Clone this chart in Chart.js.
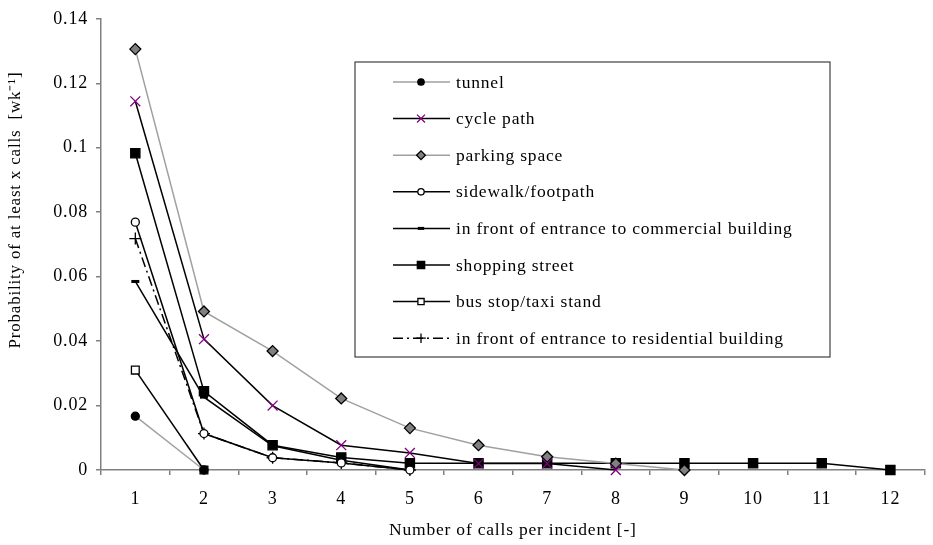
<!DOCTYPE html>
<html>
<head>
<meta charset="utf-8">
<title>Probability of at least x calls</title>
<script src="https://cdn.jsdelivr.net/npm/chart.js@4.4.1/dist/chart.umd.min.js"></script>
<style>
    html, body { margin: 0; padding: 0; background: #ffffff; }
    #wrap { width: 933px; height: 545px; }
</style>
</head>
<body>
<div id="wrap"><canvas id="callsChart" width="933" height="545"></canvas></div>
<script>
// Categories: number of calls per incident
const callCounts = ['1', '2', '3', '4', '5', '6', '7', '8', '9', '10', '11', '12'];
const yTickLabels = ['0', '0.02', '0.04', '0.06', '0.08', '0.1', '0.12', '0.14'];

// Probability of at least x calls, per location type
const tunnel = [0.0167, 0];
const cyclePath = [0.1144, 0.0406, 0.0200, 0.0077, 0.0053, 0.0020, 0.0020, 0];
const parkingSpace = [0.1306, 0.0492, 0.0369, 0.0222, 0.0130, 0.0077, 0.0041, 0.0020, 0];
const sidewalk = [0.0769, 0.0113, 0.0038, 0.0022, 0];
const commercialEntrance = [0.0585, 0.0226, 0.0075, 0.0030, 0];
const shoppingStreet = [0.0983, 0.0244, 0.0077, 0.0039, 0.0021, 0.0021, 0.0021, 0.0021, 0.0021, 0.0021, 0.0021, 0];
const busStop = [0.0310, 0];
const residentialEntrance = [0.0718, 0.0113, 0.0038, 0.0022, 0];

const xTitle = 'Number of calls per incident [-]';
const yTitle = 'Probability of at least x calls  [wk\u207B\u00B9]';

const FONT = '"Liberation Serif", "Times New Roman", serif';
const GREY_LINE = '#a0a0a0';

Chart.defaults.font.family = FONT;
Chart.defaults.font.size = 18;
Chart.defaults.color = '#000';

// helper to build one series
function series(label, data, lineColor, style, radius, fill, border, extra) {
    return Object.assign({
        label: label,
        data: data,
        borderColor: lineColor,
        borderWidth: 1.5,
        pointStyle: style,
        pointRadius: radius,
        pointHoverRadius: radius,
        pointBackgroundColor: fill,
        pointBorderColor: border,
        pointBorderWidth: 1.3,
        tension: 0,
        fill: false,
        clip: false
    }, extra || {});
}

const datasets = [
    series('tunnel', tunnel, GREY_LINE, 'circle', 4, '#000', '#000'),
    series('cycle path', cyclePath, '#000', 'crossRot', 7, '#800080', '#800080'),
    series('parking space', parkingSpace, GREY_LINE, 'rectRot', 5.5, '#808080', '#000'),
    series('sidewalk/footpath', sidewalk, '#000', 'circle', 4, '#fff', '#000'),
    series('in front of entrance to commercial building', commercialEntrance, '#000', 'line', 4, '#000', '#000', { pointBorderWidth: 3 }),
    series('shopping street', shoppingStreet, '#000', 'rect', 6.5, '#000', '#000'),
    series('bus stop/taxi stand', busStop, '#000', 'rect', 5.5, '#fff', '#000'),
    series('in front of entrance to residential building', residentialEntrance, '#000', 'cross', 6, '#000', '#000', { borderDash: [10, 4, 2, 4] })
];

// legend box inside the plot, drawn from the dataset styles
const legendBox = { left: 355, top: 62, width: 475, height: 295, firstRow: 82, rowStep: 36.6 };

const spacingPlugin = {
    id: 'spacing',
    beforeDraw(chart) {
        chart.ctx.letterSpacing = '0.8px';
    }
};

const legendPlugin = {
    id: 'boxLegend',
    afterDraw(chart) {
        const ctx = chart.ctx;
        ctx.save();
        ctx.fillStyle = '#fff';
        ctx.fillRect(legendBox.left, legendBox.top, legendBox.width, legendBox.height);
        ctx.strokeStyle = '#404040';
        ctx.lineWidth = 1.2;
        ctx.strokeRect(legendBox.left, legendBox.top, legendBox.width, legendBox.height);

        chart.data.datasets.forEach(function (ds, i) {
            const y = legendBox.firstRow + i * legendBox.rowStep;
            ctx.strokeStyle = ds.borderColor;
            ctx.lineWidth = ds.borderWidth;
            ctx.setLineDash(ds.borderDash || []);
            ctx.beginPath();
            ctx.moveTo(legendBox.left + 38, y);
            ctx.lineTo(legendBox.left + 95, y);
            ctx.stroke();
            ctx.setLineDash([]);

            ctx.fillStyle = ds.pointBackgroundColor;
            ctx.strokeStyle = ds.pointBorderColor;
            ctx.lineWidth = ds.pointBorderWidth;
            Chart.helpers.drawPoint(ctx, {
                pointStyle: ds.pointStyle,
                radius: ds.pointRadius * 0.8,
                rotation: 0,
                borderWidth: ds.pointBorderWidth
            }, legendBox.left + 66, y);

            ctx.fillStyle = '#000';
            ctx.font = '17.5px ' + FONT;
            ctx.textAlign = 'left';
            ctx.textBaseline = 'middle';
            ctx.fillText(ds.label, legendBox.left + 101, y + 1);
        });

        // rotated y axis title
        ctx.translate(15.5, 210);
        ctx.rotate(-Math.PI / 2);
        ctx.font = '17px ' + FONT;
        ctx.textAlign = 'center';
        ctx.textBaseline = 'middle';
        ctx.fillText(yTitle, 0, 0);
        ctx.restore();
    }
};

new Chart(document.getElementById('callsChart'), {
    type: 'line',
    data: {
        labels: callCounts,
        datasets: datasets
    },
    options: {
        responsive: false,
        animation: false,
        events: [],
        layout: { padding: { top: 15, right: 0, bottom: 0, left: 0 } },
        plugins: {
            legend: { display: false },
            tooltip: { enabled: false }
        },
        scales: {
            x: {
                offset: true,
                grid: { offset: true, drawOnChartArea: false, tickLength: 5, color: '#808080', lineWidth: 1.5 },
                border: { color: '#808080', width: 1.5 },
                ticks: { padding: 13, color: '#000', font: { size: 18 }, maxRotation: 0, autoSkip: false },
                title: { display: true, text: xTitle, color: '#000', font: { size: 17.5 }, padding: { top: 0, bottom: 4 } },
                afterFit: function (scale) { scale.height = 75; }
            },
            y: {
                min: 0,
                max: 0.14,
                ticks: {
                    stepSize: 0.02,
                    padding: 8,
                    color: '#000',
                    font: { size: 18 },
                    callback: function (value) {
                        return yTickLabels.find(t => Math.abs(parseFloat(t) - value) < 1e-9);
                    }
                },
                grid: { drawOnChartArea: false, tickLength: 5, color: '#808080', lineWidth: 1.5 },
                border: { color: '#808080', width: 1.5 },
                afterFit: function (scale) { scale.width = 101; }
            }
        }
    },
    plugins: [spacingPlugin, legendPlugin]
});
</script>
</body>
</html>
